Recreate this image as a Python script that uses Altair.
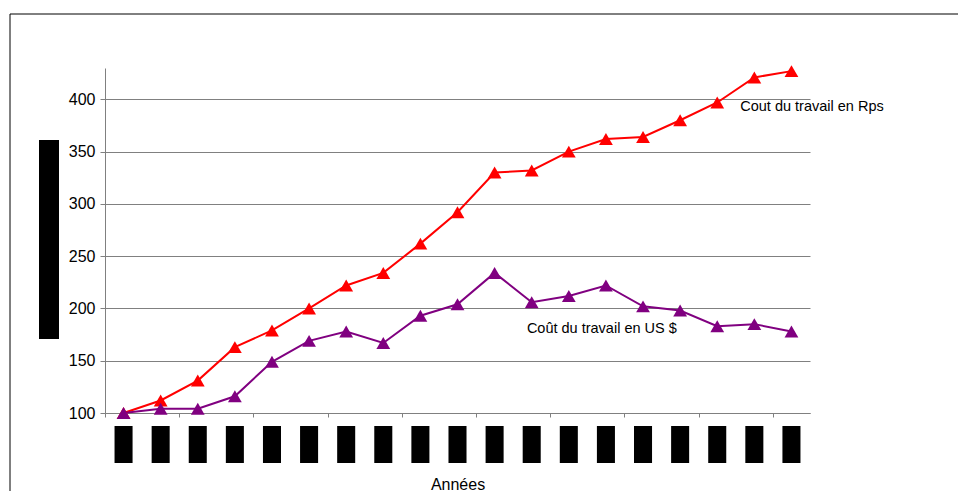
import altair as alt
import pandas as pd

# ---- data ----
year_index = list(range(1, 20))  # 19 years (labels are redacted in the source)
cout_rps = [100, 112, 131, 163, 179, 200, 222, 234, 262, 292,
            330, 332, 350, 362, 364, 380, 397, 421, 427]
cout_usd = [100, 104, 104, 116, 149, 169, 178, 167, 193, 204,
            234, 206, 212, 222, 202, 198, 183, 185, 178]
series_names = ["Cout du travail en Rps", "Coût du travail en US $"]
series_colors = ["#FF0000", "#800080"]
y_ticks = [100, 150, 200, 250, 300, 350, 400]

# annotation labels, placed in data coordinates
label_text = ["Cout du travail en Rps", "Coût du travail en US $"]
label_x = [17.62, 11.87]
label_val = [392.5, 180]

W, H = 950, 483
PL, PT = 97, 60
PW, PH = 705, 345

df = pd.DataFrame({
    "idx": year_index * 2,
    "value": cout_rps + cout_usd,
    "serie": [series_names[0]] * len(cout_rps) + [series_names[1]] * len(cout_usd),
})
df_lab = pd.DataFrame({"idx": label_x, "value": label_val, "text": label_text})
df_box = pd.DataFrame({"idx": year_index})
one = pd.DataFrame({"a": [0]})

FONT = "Liberation Sans"

xscale = alt.Scale(domain=[0.5, 19.5], nice=False, zero=False)
yscale = alt.Scale(domain=[100, 430], nice=False, zero=False)

x_axis = alt.Axis(
    values=[i + 0.5 for i in range(0, 20)], labels=False, grid=False,
    tickSize=4, tickColor="#808080", domainColor="#808080",
    title="Années", titleFont=FONT, titleFontSize=16, titleFontWeight="normal",
    titleColor="black", titleBaseline="alphabetic", titleY=76,
)
y_axis = alt.Axis(
    values=y_ticks, title=None, labelFont=FONT, labelFontSize=16, labelColor="black",
    labelPadding=5, tickSize=5, tickColor="#808080", domainColor="#808080",
    gridColor="#808080", grid=True,
)

lines = alt.Chart(df).mark_line(
    strokeWidth=2,
    point=alt.OverlayMarkDef(shape="triangle-up", size=190, filled=True, opacity=1),
).encode(
    x=alt.X("idx:Q", scale=xscale, axis=x_axis),
    y=alt.Y("value:Q", scale=yscale, axis=y_axis),
    color=alt.Color("serie:N", scale=alt.Scale(domain=series_names, range=series_colors), legend=None),
)

labels = alt.Chart(df_lab).mark_text(
    align="left", baseline="middle", font=FONT, fontSize=14.5, color="black"
).encode(
    x=alt.X("idx:Q", scale=xscale),
    y=alt.Y("value:Q", scale=yscale),
    text="text:N",
)

boxes = alt.Chart(df_box).transform_calculate(
    x1="datum.idx - 0.243", x2="datum.idx + 0.243"
).mark_rect(color="black").encode(
    x=alt.X("x1:Q", scale=xscale),
    x2="x2:Q",
    y=alt.value(PH + 13),
    y2=alt.value(PH + 50),
)

ybox = alt.Chart(one).mark_rect(color="black").encode(
    x=alt.value(-66), x2=alt.value(-46), y=alt.value(72), y2=alt.value(271)
)

border_top = alt.Chart(one).mark_rule(color="black", strokeWidth=1).encode(
    x=alt.value(-95), x2=alt.value(W - PL), y=alt.value(-54)
)
border_left = alt.Chart(one).mark_rule(color="black", strokeWidth=1).encode(
    x=alt.value(-95), y=alt.value(-54), y2=alt.value(H - PT)
)

chart = alt.layer(boxes, ybox, border_top, border_left, lines, labels).properties(
    width=PW, height=PH,
    autosize=alt.AutoSizeParams(type="none"),
    padding={"left": PL, "top": PT, "right": W - PL - PW, "bottom": H - PT - PH},
    background="white",
).configure_view(stroke=None)

chart.save("out.html", embed_options={"renderer": "svg", "actions": False})
